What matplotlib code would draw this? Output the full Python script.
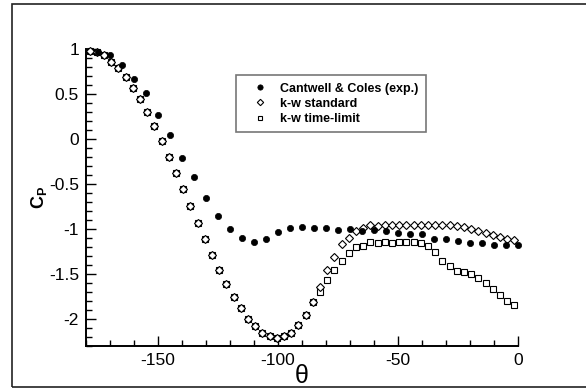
import matplotlib
matplotlib.use("Agg")
import matplotlib.pyplot as plt
from matplotlib.patches import Rectangle

plt.rcParams['font.family'] = ['Liberation Sans', 'DejaVu Sans']
plt.rcParams['mathtext.fontset'] = 'custom'
plt.rcParams['mathtext.rm'] = 'Liberation Sans'
plt.rcParams['mathtext.bf'] = 'Liberation Sans:bold'

# Cantwell & Coles experiment
exp_theta = [-175, -170, -165, -160, -155, -150, -145, -140, -135, -130, -125, -120,
             -115, -110, -105, -100, -95, -90, -85, -80, -75, -70, -65, -60,
             -55, -50, -45, -40, -35, -30, -25, -20, -15, -10, -5, 0]
exp_cp = [0.97, 0.93, 0.82, 0.67, 0.51, 0.27, 0.04, -0.21, -0.42, -0.66, -0.85, -1.00,
          -1.10, -1.14, -1.11, -1.03, -0.99, -0.98, -0.99, -0.99, -1.01, -1.00, -1.02, -1.01,
          -1.02, -1.04, -1.06, -1.06, -1.11, -1.11, -1.13, -1.15, -1.16, -1.18, -1.18, -1.18]

# simulations
sim_theta = [-178.5, -175.5, -172.5, -169.5, -166.5, -163.5, -160.5, -157.5, -154.5, -151.5,
             -148.5, -145.5, -142.5, -139.5, -136.5, -133.5, -130.5, -127.5, -124.5, -121.5,
             -118.5, -115.5, -112.5, -109.5, -106.5, -103.5, -100.5, -97.5, -94.5, -91.5,
             -88.5, -85.5, -82.5, -79.5, -76.5, -73.5, -70.5, -67.5, -64.5, -61.5,
             -58.5, -55.5, -52.5, -49.5, -46.5, -43.5, -40.5, -37.5, -34.5, -31.5,
             -28.5, -25.5, -22.5, -19.5, -16.5, -13.5, -10.5, -7.5, -4.5, -1.5]
kw_std = [0.98, 0.97, 0.93, 0.86, 0.79, 0.69, 0.57, 0.44, 0.30, 0.14,
          -0.02, -0.20, -0.38, -0.56, -0.74, -0.93, -1.11, -1.29, -1.46, -1.61,
          -1.76, -1.88, -2.00, -2.08, -2.15, -2.19, -2.21, -2.19, -2.15, -2.07,
          -1.96, -1.81, -1.64, -1.46, -1.31, -1.17, -1.10, -1.02, -0.99, -0.96,
          -0.97, -0.96, -0.96, -0.96, -0.96, -0.95, -0.95, -0.95, -0.95, -0.96,
          -0.96, -0.97, -0.98, -1.00, -1.02, -1.04, -1.07, -1.09, -1.11, -1.12]
kw_tl = [0.98, 0.97, 0.93, 0.86, 0.79, 0.69, 0.57, 0.44, 0.30, 0.14,
         -0.02, -0.20, -0.38, -0.56, -0.74, -0.93, -1.11, -1.29, -1.46, -1.61,
         -1.76, -1.88, -2.00, -2.08, -2.15, -2.19, -2.21, -2.19, -2.15, -2.07,
         -1.96, -1.81, -1.70, -1.57, -1.46, -1.35, -1.27, -1.20, -1.19, -1.14,
         -1.15, -1.14, -1.15, -1.14, -1.14, -1.14, -1.16, -1.19, -1.26, -1.35,
         -1.41, -1.47, -1.48, -1.50, -1.54, -1.60, -1.67, -1.73, -1.80, -1.84]

fig = plt.figure(figsize=(5.86, 3.90), dpi=100)
ax = fig.add_axes([86/586, 44/390, 432/586, 297/390])

ax.plot(exp_theta, exp_cp, 'o', ms=4.5, mfc='black', mec='black', mew=0.5,
        label='Cantwell & Coles (exp.)', clip_on=False, zorder=3)
ax.plot(sim_theta, kw_tl, 's', ms=3.7, mfc='white', mec='black', mew=0.8,
        label='k-w time-limit', clip_on=False, zorder=2)
ax.plot(sim_theta, kw_std, 'D', ms=3.8, mfc='white', mec='black', mew=0.8,
        label='k-w standard', clip_on=False, zorder=2)

ax.set_xlim(-180, 0)
ax.set_ylim(-2.3, 1.0)
ax.set_xticks([-150, -100, -50, 0])
ax.set_xticks(range(-180, 1, 10), minor=True)
ax.set_yticks([-2, -1.5, -1, -0.5, 0, 0.5, 1])
ax.set_yticklabels(['-2', '-1.5', '-1', '-0.5', '0', '0.5', '1'])
ax.set_yticks([v / 10 for v in range(-23, 11)], minor=True)
ax.set_xticklabels(['-150', '-100', '-50', '0'])

for s in ['top', 'right']:
    ax.spines[s].set_visible(False)
for s in ['left', 'bottom']:
    ax.spines[s].set_linewidth(1.4)
ax.tick_params(which='both', direction='in', width=1.0, labelsize=12.5, pad=5)
ax.tick_params(which='major', length=7)
ax.tick_params(which='minor', length=4)

ax.set_xlabel('θ', fontsize=18, labelpad=-3)
ax.set_ylabel(r'$\mathbf{C_P}$', fontsize=13, labelpad=0, rotation=90)

h, l = ax.get_legend_handles_labels()
order = [0, 2, 1]
leg = ax.legend([h[i] for i in order], [l[i] for i in order],
                loc='upper left', bbox_to_anchor=(0.347, 0.912),
                prop={'weight': 'bold', 'size': 9}, frameon=True, fancybox=False,
                handlelength=2.6, handletextpad=0.3, labelspacing=0.25,
                borderpad=0.6, borderaxespad=0, markerscale=0.85)
leg.get_frame().set_edgecolor('#555555')
leg.get_frame().set_linewidth(1.2)

fig.add_artist(Rectangle((12/586, 3/390), 1.1, 383/390, transform=fig.transFigure,
                         fill=False, edgecolor='#222222', linewidth=1.2))

fig.savefig('out.png', dpi=100)
